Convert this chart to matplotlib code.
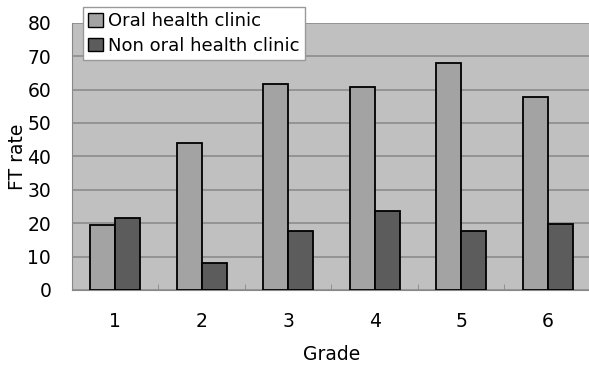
import numpy as np
import matplotlib
matplotlib.use("Agg")
import matplotlib.pyplot as plt
from matplotlib.patches import Patch

grades = ["1", "2", "3", "4", "5", "6"]
oral = [19.5, 44, 61.8, 60.8, 67.8, 57.8]
non_oral = [21.5, 8, 17.8, 23.5, 17.8, 19.8]
series_names = ["Oral health clinic", "Non oral health clinic"]

plt.rcParams['font.family'] = ['DejaVu Sans']

fig = plt.figure(figsize=(5.89, 3.65), dpi=100)
ax = fig.add_axes([0.1222, 0.2055, 0.881, 0.7323])
ax.set_facecolor("#c0c0c0")

x = np.arange(len(grades))
w = 0.29
ax.bar(x - w / 2, oral, w, color="#a3a3a3", edgecolor="black", lw=1.3, zorder=3)
ax.bar(x + w / 2, non_oral, w, color="#5c5c5c", edgecolor="black", lw=1.3, zorder=3)

ax.set_xlim(-0.5, len(grades) - 0.5)
ax.set_ylim(0, 80)
ax.set_yticks(range(0, 81, 10))
ax.yaxis.grid(True, color="#8c8c8c", lw=1.2, zorder=1)
ax.set_axisbelow(True)

ax.set_xticks(x)
ax.set_xticklabels(grades, fontsize=13.5)
ax.tick_params(axis="x", length=0, pad=16)
ax.set_xticks(x[:-1] + 0.5, minor=True)
ax.tick_params(axis="x", which="minor", direction="in", length=4, color="#888888")
ax.tick_params(axis="y", labelsize=13.5, length=0, pad=15)

for s in ["top", "right"]:
    ax.spines[s].set_visible(False)
ax.spines["left"].set_color("#888888")
ax.spines["bottom"].set_color("#888888")

ax.set_xlabel("Grade", fontsize=13.5, labelpad=10)
ax.set_ylabel("FT rate", fontsize=13.5, labelpad=0)

handles = [Patch(facecolor="#a3a3a3", edgecolor="black"),
           Patch(facecolor="#5c5c5c", edgecolor="black")]
leg = fig.legend(handles, series_names, loc="upper left",
                 bbox_to_anchor=(83 / 589, 1 - 7 / 365), fontsize=13,
                 frameon=True, fancybox=False, framealpha=1,
                 handlelength=0.8, handleheight=0.8,
                 handletextpad=0.3, borderpad=0.3, labelspacing=0.35,
                 borderaxespad=0)
leg.get_frame().set_edgecolor("#999999")
leg.get_frame().set_linewidth(1)

fig.savefig("out.png", dpi=100)
